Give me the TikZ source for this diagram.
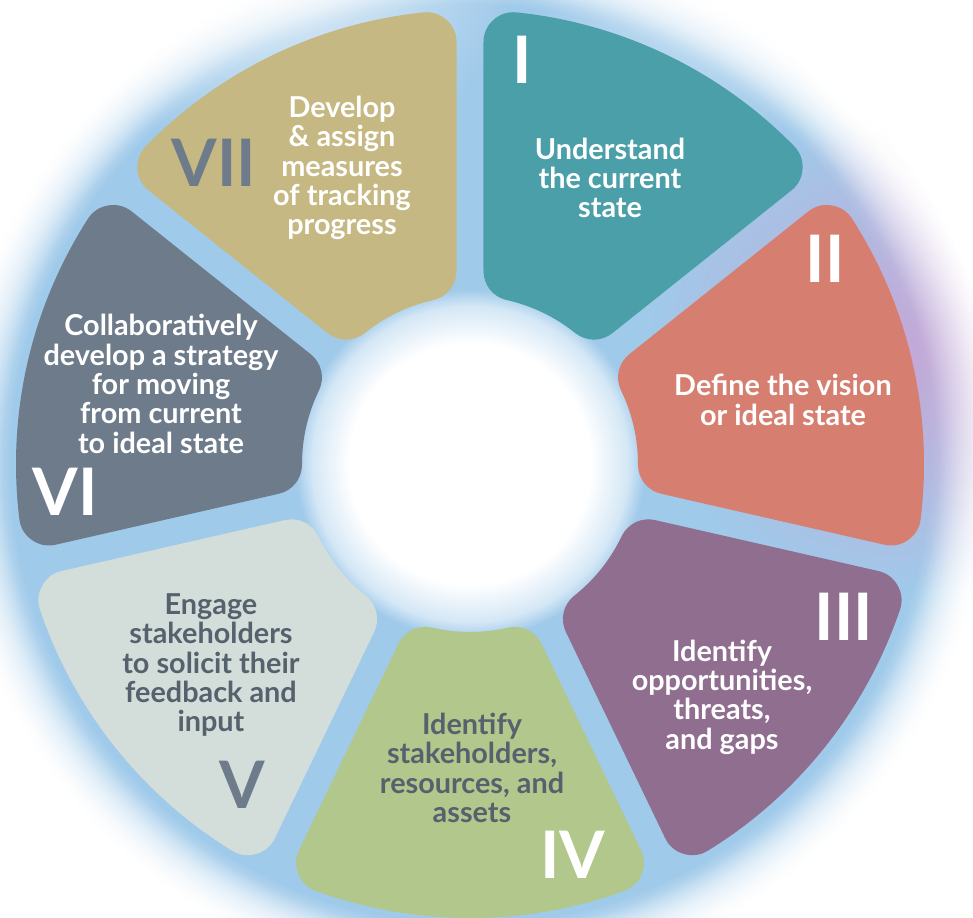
\documentclass[tikz,border=0pt]{standalone}
\usepackage{fontspec}
\setmainfont{Lato}
\usetikzlibrary{fadings}

\definecolor{segI}{HTML}{4B9FA9}
\definecolor{segII}{HTML}{D67E70}
\definecolor{segIII}{HTML}{8F6E8F}
\definecolor{segIV}{HTML}{B2C78B}
\definecolor{segV}{HTML}{D3DDD9}
\definecolor{segVI}{HTML}{6E7B8B}
\definecolor{segVII}{HTML}{C6B882}
\definecolor{darktext}{HTML}{56616E}
\definecolor{slate}{HTML}{6E7B8B}
\definecolor{glow}{HTML}{A0CAEA}
\definecolor{lilac}{HTML}{C6A6D6}

% soft halo behind the ring (outer radius of the shaded disc = 25bp)
\pgfdeclareradialshading{ringglow}{\pgfpoint{0bp}{0bp}}{%
  color(0bp)=(white); color(5.8bp)=(white); color(7.6bp)=(glow!45!white);
  color(8.4bp)=(glow); color(22.1bp)=(glow); color(23.4bp)=(glow!50!white);
  color(25bp)=(white); color(50bp)=(white)}
% blob of tint, opaque in the middle
\tikzfading[name=softblob, inner color=transparent!0, outer color=transparent!100]
% mask that only lets paint through beyond the ring's outer edge
\pgfdeclareradialshading{edgemask}{\pgfpoint{0bp}{0bp}}{%
  color(0bp)=(transparent!100); color(19.4bp)=(transparent!100);
  color(22.1bp)=(transparent!0); color(50bp)=(transparent!0)}
\pgfdeclarefading{edgefade}{\pgfuseshading{edgemask}}

% one ring piece: shrunken sector stroked with a round join gives rounded corners
\def\Rout{454}\def\Rin{168}\def\crad{30}\def\halfgap{13.5}
\newcommand\ringpiece[2]{%
  \pgfmathsetmacro\ro{\Rout-\crad}%
  \pgfmathsetmacro\ri{\Rin+\crad}%
  \pgfmathsetmacro\dd{\halfgap+\crad}%
  \pgfmathsetmacro\ao{180/7-asin(\dd/\ro)}%
  \pgfmathsetmacro\ai{180/7-asin(\dd/\ri)}%
  \pgfmathsetmacro\lw{2*\crad*0.02}%
  \filldraw[fill=#2, draw=#2, line width=\lw cm, line join=round]
    (#1-\ao:\ro) arc[start angle=#1-\ao, end angle=#1+\ao, radius=\ro]
    -- (#1+\ai:\ri) arc[start angle=#1+\ai, end angle=#1-\ai, radius=\ri] -- cycle;
}

\begin{document}
\begin{tikzpicture}[x=0.02cm, y=0.02cm,
  lbl/.style={align=center, inner sep=0pt,
    font=\bfseries\fontsize{16.4}{16.7}\selectfont},
  numeral/.style={inner sep=0pt, font=\bfseries\fontsize{37.3}{40}\selectfont}]
\useasboundingbox (-470,-454) rectangle (503,464);

% halo: blue ring, lilac on the right, lighter along the top
\shade[shading=ringglow] (0,0) circle (520);
\begin{scope}
  \clip (0,0) circle (598);
  \fill[lilac, path fading=softblob, fill opacity=1] (420,110) circle (240);
\end{scope}
\fill[white, path fading=softblob, fill opacity=0.75] (-180,520) circle (230);
\fill[white, path fading=softblob, fill opacity=0.6] (250,520) circle (200);
\fill[white, path fading=edgefade] (0,0) circle (600);

% ring pieces, clockwise from the top
\ringpiece{64.2857}{segI}
\ringpiece{12.8571}{segII}
\ringpiece{-38.5714}{segIII}
\ringpiece{-90}{segIV}
\ringpiece{-141.4286}{segV}
\ringpiece{167.1429}{segVI}
\ringpiece{115.7143}{segVII}

% step numbers
\node[numeral, white] (nI)   at (52,404)   {I};
\node[numeral, white] (nII)  at (355,205)  {II};
\node[numeral, white] (nIII) at (374,-153) {III};
\node[numeral, white] (nIV)  at (103,-391) {IV};
\node[numeral, slate] (nV)   at (-228,-321) {V};
\node[numeral, white] (nVI)  at (-405,-28) {VI};
\node[numeral, slate] (nVII) at (-256,301) {VII};

% step descriptions
\node[lbl, white] (tI) at (140,286) {Understand\\the current\\state};
\node[lbl, white] (tII) at (313,64) {Define the vision\\or ideal state};
\node[lbl, white] (tIII) at (252,-233) {Identify\\opportunities,\\threats,\\and gaps};
\node[lbl, darktext] (tIV) at (2,-304) {Identify\\stakeholders,\\resources, and\\assets};
\node[lbl, darktext] (tV) at (-259,-201) {Engage\\stakeholders\\to solicit their\\feedback and\\input};
\node[lbl, white] (tVI) at (-309,80) {Collaboratively\\develop a strategy\\for moving\\from current\\to ideal state};
\node[lbl, white] (tVII) at (-128,296) {Develop\\\& assign\\measures\\of tracking\\progress};
\end{tikzpicture}
\end{document}
